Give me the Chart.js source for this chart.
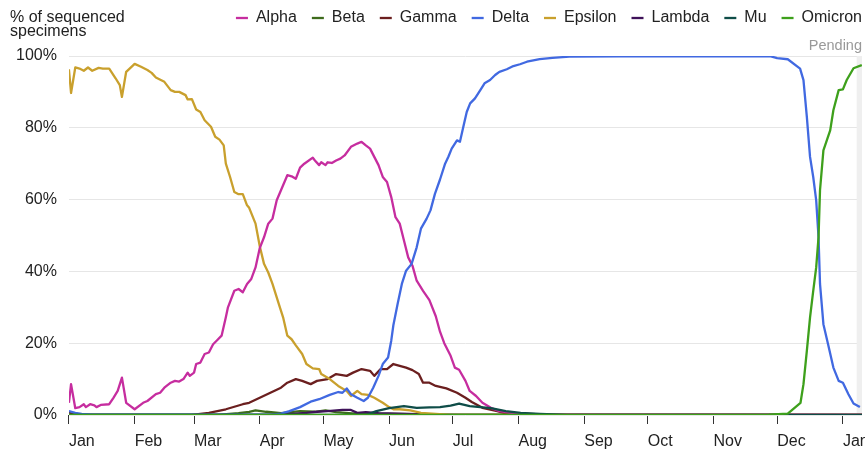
<!DOCTYPE html>
<html>
<head>
<meta charset="utf-8">
<script src="https://cdn.jsdelivr.net/npm/chart.js@4.4.1/dist/chart.umd.min.js"></script>
<style>
  html, body { margin: 0; padding: 0; background: #fff; }
  #wrap { width: 865px; height: 451px; position: relative; }
</style>
</head>
<body>
<div id="wrap"><canvas id="chart"></canvas></div>
<script>
// x values are days since Jan 1 2021
const monthDays = [0, 31, 59, 90, 120, 151, 181, 212, 243, 273, 304, 334, 365];
const monthLabels = ['Jan', 'Feb', 'Mar', 'Apr', 'May', 'Jun', 'Jul', 'Aug', 'Sep', 'Oct', 'Nov', 'Dec', 'Jan'];
const yTicks = [0, 20, 40, 60, 80, 100];
const lastDay = 374;
const pendingFrom = 371.5;

const alphaDays = [0, 1, 3, 5, 7, 8, 10, 12, 13, 15, 19, 21, 23, 25, 27, 31, 35, 37, 41, 43, 45, 48, 50, 52, 54, 56, 57, 59, 60, 62, 64, 66, 68, 70, 72, 74, 75, 78, 80, 82, 84, 86, 88, 90, 92, 94, 96, 98, 100, 103, 105, 107, 109, 111, 115, 116, 118, 119, 121, 122, 124, 126, 128, 130, 133, 136, 138, 140, 142, 144, 146, 148, 150, 152, 154, 156, 158, 160, 162, 164, 167, 170, 173, 175, 177, 180, 182, 184, 187, 189, 192, 195, 199, 203, 211, 218, 374];
const alphaValues = [3.4, 8.6, 1.9, 2.2, 3, 2.2, 3, 2.7, 2.2, 2.8, 3, 4.8, 6.7, 10.4, 3.4, 1.6, 3.4, 3.9, 5.8, 6.2, 7.6, 9, 9.5, 9.3, 10, 11.8, 10.9, 11.8, 14.2, 14.6, 17, 17.4, 19.7, 20.9, 22.1, 27.2, 30, 34.6, 35.1, 34.2, 36.5, 37.9, 41.1, 46.5, 49.5, 53.3, 54.7, 59.8, 62.6, 66.8, 66.5, 65.8, 68.9, 70, 71.7, 70.9, 69.6, 70.4, 69.6, 70.4, 70.2, 70.9, 71.4, 72.3, 74.7, 75.6, 76.1, 75.1, 74.2, 71.9, 69.6, 66.3, 64.9, 60.7, 55.1, 53.3, 48.6, 43.9, 41.6, 37.4, 34.6, 32, 27.5, 23.2, 20, 16.5, 13.2, 12.6, 9.5, 6.7, 5.3, 3.4, 2, 1.1, 0.4, 0.2, 0];

const betaDays = [0, 70, 80, 85, 88, 93, 100, 109, 116, 121, 126, 135, 150, 180, 374];
const betaValues = [0, 0, 0.5, 0.9, 1.3, 0.9, 0.5, 1.1, 0.9, 1.3, 0.8, 0.4, 0.3, 0.1, 0];

const gammaDays = [0, 2, 5, 58, 66, 74, 82, 85, 90, 95, 100, 103, 107, 110, 114, 117, 122, 126, 131, 134, 138, 142, 144, 147, 150, 153, 156, 159, 162, 165, 167, 170, 173, 178, 183, 187, 190, 195, 202, 205, 217, 230, 374];
const gammaValues = [0.8, 0.2, 0, 0, 0.6, 1.6, 3, 3.4, 4.8, 6.2, 7.6, 9, 10, 9.5, 8.6, 9.5, 10, 11.4, 10.9, 11.8, 12.8, 12.3, 10.9, 12.8, 12.8, 14.2, 13.7, 13.2, 12.5, 11.4, 9, 9, 8.1, 7.4, 6.2, 4.8, 3.6, 2, 1.1, 0.6, 0.3, 0, 0];

const deltaDays = [0, 3, 6, 11, 96, 100, 104, 109, 114, 118, 123, 127, 129, 131, 133, 136, 139, 141, 143.5, 146, 148, 150.5, 152, 153, 155, 157, 159, 161.6, 164, 166, 168.7, 170.5, 172.6, 175, 177.4, 179, 180.5, 183, 184.4, 186, 187.6, 189.2, 191.5, 194, 196, 198.6, 201, 203, 206.5, 209.6, 212.7, 216, 222, 228, 236, 260, 331, 334, 339, 344.8, 346.4, 348, 349.5, 351, 352.4, 353.5, 354.2, 355.8, 358, 360.5, 363, 365, 367.6, 370, 373];
const deltaValues = [1.1, 0.6, 0.3, 0.1, 0.1, 0.4, 1.1, 2.2, 3.7, 4.4, 5.6, 6.4, 6.2, 7.4, 5.8, 4.8, 3.9, 4.8, 7.6, 10.9, 14.2, 16, 20.7, 25, 30.9, 36.5, 40.2, 42.1, 46.7, 51.9, 54.7, 57, 61.6, 65.6, 70, 72, 74.2, 76.5, 76.1, 80.3, 84.4, 86.8, 88.2, 90.5, 92.4, 93.3, 94.7, 95.6, 96.3, 97.2, 97.7, 98.4, 99.1, 99.5, 99.8, 99.9, 99.9, 99.4, 99.1, 96.5, 93.3, 83, 71.9, 66.3, 59.8, 49.5, 36.5, 25.3, 19.7, 13.2, 9.5, 9, 5.8, 3.2, 2.2];

const epsilonDays = [0, 1, 3, 5, 7, 9, 11, 14, 16, 19, 22, 24, 25, 27, 31, 34, 37, 39, 41, 45, 48, 50, 52, 55, 56, 58, 60, 62, 64, 67, 69, 71, 73, 74, 76, 78, 80, 82, 84, 85, 88, 90, 92, 94, 96, 99, 101, 103, 105, 107, 110, 112, 115, 118, 119, 123, 127, 131, 133, 136, 138, 141, 144, 148, 151, 153, 156, 161, 166, 173, 180, 374];
const epsilonValues = [96.3, 89.7, 96.8, 96.5, 95.9, 96.8, 95.9, 96.7, 96.5, 96.5, 93.8, 91.9, 88.6, 95.6, 97.8, 97, 96.1, 95.3, 94, 92.8, 90.5, 90, 90, 89.1, 87.9, 88, 85.1, 84.4, 82.1, 80.3, 77.5, 76.7, 75.1, 70, 66.3, 62.1, 61.5, 61.5, 58.4, 57.7, 53.3, 47, 42.1, 39.7, 36.5, 30.9, 27.2, 22.1, 21.1, 19.4, 17, 14.2, 13, 12.8, 11.4, 10, 8.1, 6.7, 5.3, 6.7, 5.8, 5.6, 4.8, 3.4, 2.2, 1.6, 1.6, 1.3, 0.6, 0.3, 0, 0];

const lambdaDays = [0, 95, 105, 112, 117, 122, 129, 133, 136, 140, 146, 160, 175, 374];
const lambdaValues = [0, 0, 0.3, 0.6, 0.9, 1.1, 1.4, 1.4, 0.6, 0.8, 0.5, 0.3, 0, 0];

const muDays = [0, 140, 145, 151, 158, 164, 170, 175, 180, 184, 189, 194, 199, 206, 213, 222, 235, 374];
const muValues = [0, 0, 1.1, 1.9, 2.5, 2, 2.1, 2.2, 2.6, 3.2, 2.5, 2.2, 1.9, 1.1, 0.6, 0.3, 0, 0];

const omicronDays = [0, 330, 339, 345, 346.4, 348, 349.5, 351, 352.4, 353.5, 354.2, 355.8, 357.4, 359, 360.5, 363, 365, 366.8, 370, 373.9];
const omicronValues = [0, 0.1, 0.4, 3.4, 8.6, 17.9, 27.2, 34.6, 41.1, 49.5, 62.6, 73.7, 76.5, 79.3, 84.9, 90.5, 90.7, 93.3, 96.6, 97.5];

const variants = [
  { label: 'Alpha', days: alphaDays, values: alphaValues, color: '#c62d9f', order: 3 },
  { label: 'Beta', days: betaDays, values: betaValues, color: '#3e6b1c', order: 7 },
  { label: 'Gamma', days: gammaDays, values: gammaValues, color: '#6b1f1f', order: 5 },
  { label: 'Delta', days: deltaDays, values: deltaValues, color: '#4169e1', order: 2 },
  { label: 'Epsilon', days: epsilonDays, values: epsilonValues, color: '#c9a02d', order: 4 },
  { label: 'Lambda', days: lambdaDays, values: lambdaValues, color: '#3f1259', order: 6 },
  { label: 'Mu', days: muDays, values: muValues, color: '#0f4d48', order: 1 },
  { label: 'Omicron', days: omicronDays, values: omicronValues, color: '#3ea01c', order: 0 }
];

Chart.defaults.font.family = '"Liberation Sans", Arial, sans-serif';
Chart.defaults.font.size = 16;
Chart.defaults.color = '#222';

const extras = {
  id: 'extras',
  afterLayout(chart) {
    // nudge legend up/right to sit on the title line
    const lg = chart.legend;
    lg.left += 15; lg.right += 15;
    lg.top -= 20; lg.bottom -= 20;
  },
  beforeDatasetsDraw(chart) {
    const { ctx, chartArea, scales: { x } } = chart;
    const x0 = x.getPixelForValue(pendingFrom);
    ctx.save();
    ctx.fillStyle = '#efefef';
    ctx.fillRect(x0, chartArea.top, chartArea.right - x0, chartArea.bottom - chartArea.top);
    ctx.restore();
  },
  afterDraw(chart) {
    const { ctx, chartArea } = chart;
    ctx.save();
    ctx.font = '16px "Liberation Sans", Arial, sans-serif';
    ctx.fillStyle = '#222';
    ctx.textBaseline = 'middle';
    ctx.textAlign = 'left';
    ctx.fillText('% of sequenced', 10, 18);
    ctx.fillText('specimens', 10, 32);
    ctx.font = '14.5px "Liberation Sans", Arial, sans-serif';
    ctx.fillStyle = '#999';
    ctx.textAlign = 'right';
    ctx.fillText('Pending', chartArea.right, 46);
    ctx.restore();
  }
};

new Chart(document.getElementById('chart'), {
  type: 'line',
  data: {
    datasets: variants.map(v => ({
      label: v.label,
      data: v.days.map((d, i) => ({ x: d, y: v.values[i] })),
      borderColor: v.color,
      backgroundColor: v.color,
      borderWidth: 2.3,
      pointRadius: 0,
      pointHoverRadius: 0,
      tension: 0,
      borderJoinStyle: 'round',
      order: v.order
    }))
  },
  options: {
    responsive: true,
    maintainAspectRatio: false,
    animation: false,
    layout: { padding: { left: 4, right: 3, top: 15, bottom: 0 } },
    plugins: {
      legend: {
        position: 'top',
        align: 'end',
        labels: {
          usePointStyle: true,
          pointStyle: 'line',
          pointStyleWidth: 12,
          boxWidth: 12,
          padding: 15,
          color: '#222',
          font: { size: 16 },
          sort: (a, b) => a.datasetIndex - b.datasetIndex
        }
      },
      tooltip: { enabled: false }
    },
    scales: {
      x: {
        type: 'linear',
        min: 0,
        max: lastDay,
        border: { display: false },
        grid: { drawOnChartArea: false, drawTicks: true, tickLength: 9, tickColor: '#333', color: '#333' },
        ticks: {
          align: 'start',
          autoSkip: false,
          maxRotation: 0,
          padding: 8,
          color: '#222',
          font: { size: 16 },
          callback: (value, index) => monthLabels[index]
        },
        afterBuildTicks: s => { s.ticks = monthDays.map(v => ({ value: v })); },
        afterFit: s => { s.paddingRight = 0; s.paddingLeft = 0; s.height = 36; }
      },
      y: {
        min: 0,
        max: 100,
        border: { display: false },
        grid: { color: '#e6e6e6', drawTicks: false },
        ticks: {
          padding: 12,
          color: '#222',
          font: { size: 16 },
          callback: v => v + '%'
        },
        afterBuildTicks: s => { s.ticks = yTicks.map(v => ({ value: v })); }
      }
    }
  },
  plugins: [extras]
});
</script>
</body>
</html>
